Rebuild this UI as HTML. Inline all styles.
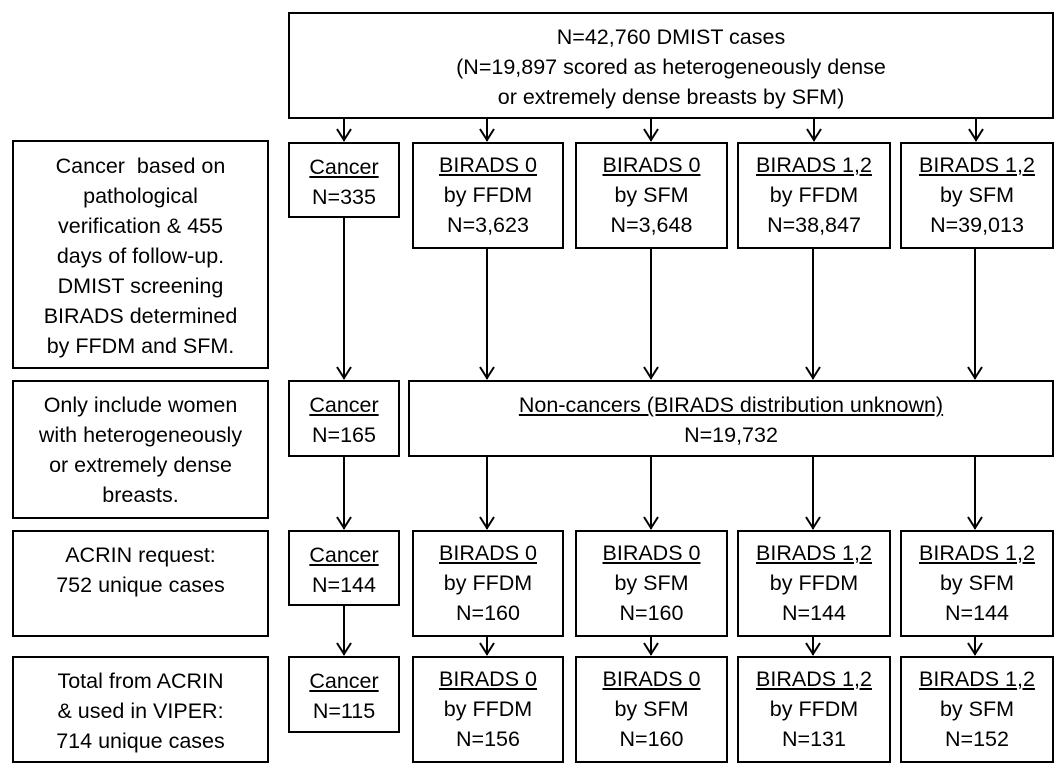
<!DOCTYPE html>
<html><head><style>
body{margin:0;width:1063px;height:775px;background:#fff;position:relative;overflow:hidden;font-family:"Liberation Sans",sans-serif;}
.b{position:absolute;border:2px solid #000;box-sizing:border-box;text-align:center;font-size:21.5px;line-height:30px;color:#000;display:flex;flex-direction:column;justify-content:flex-start;padding-top:6px;white-space:nowrap;}
u{text-decoration:underline;}
svg{position:absolute;left:0;top:0;}
</style></head><body>
<div class="b" style="left:288px;top:12px;width:766px;height:107px;padding-top:8px;">N=42,760 DMIST cases<br>(N=19,897 scored as heterogeneously dense<br>or extremely dense breasts by SFM)</div>

<div class="b" style="left:12px;top:140px;width:257px;height:229px;padding-top:9px;">Cancer &nbsp;based on<br>pathological<br>verification &amp; 455<br>days of follow-up.<br>DMIST screening<br>BIRADS determined<br>by FFDM and SFM.</div>
<div class="b" style="left:12px;top:380px;width:257px;height:139px;padding-top:8px;">Only include women<br>with heterogeneously<br>or extremely dense<br>breasts.</div>
<div class="b" style="left:12px;top:530px;width:257px;height:107px;padding-top:8px;">ACRIN request:<br>752 unique cases</div>
<div class="b" style="left:12px;top:656px;width:257px;height:107px;padding-top:8px;">Total from ACRIN<br>&amp; used in VIPER:<br>714 unique cases</div>

<div class="b" style="left:288px;top:142px;width:112px;height:76px;padding-top:8px;"><u>Cancer</u>N=335</div>
<div class="b" style="left:412px;top:142px;width:152px;height:107px;"><u>BIRADS 0</u>by FFDM<br>N=3,623</div>
<div class="b" style="left:575px;top:142px;width:153px;height:107px;"><u>BIRADS 0</u>by SFM<br>N=3,648</div>
<div class="b" style="left:737px;top:142px;width:154px;height:107px;"><u>BIRADS 1,2</u>by FFDM<br>N=38,847</div>
<div class="b" style="left:900px;top:142px;width:154px;height:107px;"><u>BIRADS 1,2</u>by SFM<br>N=39,013</div>

<div class="b" style="left:288px;top:380px;width:112px;height:77px;padding-top:8px;"><u>Cancer</u>N=165</div>
<div class="b" style="left:408px;top:380px;width:646px;height:77px;padding-top:8px;"><u>Non-cancers (BIRADS distribution unknown)</u>N=19,732</div>

<div class="b" style="left:288px;top:530px;width:112px;height:76px;padding-top:8px;"><u>Cancer</u>N=144</div>
<div class="b" style="left:412px;top:530px;width:152px;height:107px;"><u>BIRADS 0</u>by FFDM<br>N=160</div>
<div class="b" style="left:575px;top:530px;width:153px;height:107px;"><u>BIRADS 0</u>by SFM<br>N=160</div>
<div class="b" style="left:737px;top:530px;width:154px;height:107px;"><u>BIRADS 1,2</u>by FFDM<br>N=144</div>
<div class="b" style="left:900px;top:530px;width:154px;height:107px;"><u>BIRADS 1,2</u>by SFM<br>N=144</div>

<div class="b" style="left:288px;top:656px;width:112px;height:77px;padding-top:8px;"><u>Cancer</u>N=115</div>
<div class="b" style="left:412px;top:656px;width:152px;height:107px;"><u>BIRADS 0</u>by FFDM<br>N=156</div>
<div class="b" style="left:575px;top:656px;width:153px;height:107px;"><u>BIRADS 0</u>by SFM<br>N=160</div>
<div class="b" style="left:737px;top:656px;width:154px;height:107px;"><u>BIRADS 1,2</u>by FFDM<br>N=131</div>
<div class="b" style="left:900px;top:656px;width:154px;height:107px;"><u>BIRADS 1,2</u>by SFM<br>N=152</div>

<svg width="1063" height="775" fill="none" stroke="#000" stroke-width="2">
<path d="M344 119V141M487 119V141M651 119V141M814 119V141M976 119V141"/>
<path d="M337 129L344 140L351 129M480 129L487 140L494 129M644 129L651 140L658 129M807 129L814 140L821 129M969 129L976 140L983 129"/>
<path d="M344 218V379M487 249V379M651 249V379M813 249V379M975 249V379"/>
<path d="M337 367L344 378L351 367M480 367L487 378L494 367M644 367L651 378L658 367M806 367L813 378L820 367M968 367L975 378L982 367"/>
<path d="M344 457V529M487 457V529M651 457V529M813 457V529M975 457V529"/>
<path d="M337 517L344 528L351 517M480 517L487 528L494 517M644 517L651 528L658 517M806 517L813 528L820 517M968 517L975 528L982 517"/>
<path d="M344 606V655M487 637V655M651 637V655M813 637V655M975 637V655"/>
<path d="M337 643L344 654L351 643M480 643L487 654L494 643M644 643L651 654L658 643M806 643L813 654L820 643M968 643L975 654L982 643"/>
</svg>
</body></html>
